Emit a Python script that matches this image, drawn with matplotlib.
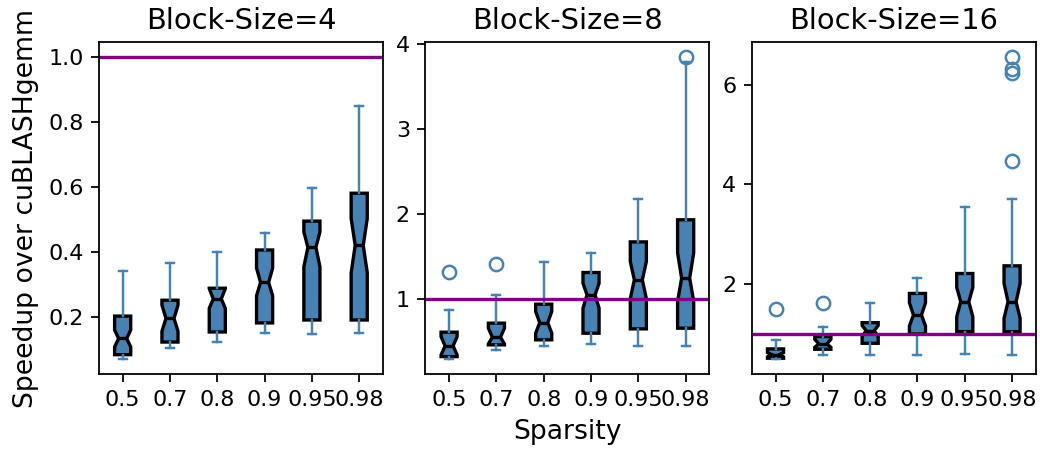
import matplotlib
matplotlib.use("Agg")
import matplotlib.pyplot as plt
from matplotlib.ticker import MultipleLocator

sparsity_labels = ["0.5", "0.7", "0.8", "0.9", "0.95", "0.98"]
block_sizes = [4, 8, 16]

# Block-Size = 4
bs4_med = [0.133, 0.195, 0.255, 0.306, 0.414, 0.420]
bs4_q1 = [0.083, 0.122, 0.153, 0.181, 0.190, 0.190]
bs4_q3 = [0.202, 0.251, 0.288, 0.406, 0.495, 0.581]
bs4_whislo = [0.069, 0.103, 0.121, 0.149, 0.147, 0.149]
bs4_whishi = [0.341, 0.365, 0.399, 0.457, 0.596, 0.851]
bs4_cilo = [0.107, 0.155, 0.226, 0.265, 0.354, 0.336]
bs4_cihi = [0.159, 0.236, 0.287, 0.350, 0.462, 0.503]
bs4_fliers = [[], [], [], [], [], []]

# Block-Size = 8
bs8_med = [0.447, 0.549, 0.721, 1.047, 1.224, 1.243]
bs8_q1 = [0.321, 0.459, 0.518, 0.596, 0.647, 0.655]
bs8_q3 = [0.608, 0.714, 0.937, 1.31, 1.67, 1.93]
bs8_whislo = [0.29, 0.40, 0.451, 0.471, 0.451, 0.447]
bs8_whishi = [0.871, 1.047, 1.43, 1.545, 2.173, 3.79]
bs8_cilo = [0.34, 0.47, 0.596, 0.89, 1.0, 0.97]
bs8_cihi = [0.556, 0.655, 0.851, 1.184, 1.44, 1.54]
bs8_fliers = [[1.318], [1.412], [], [], [], [3.84]]

# Block-Size = 16
bs16_med = [0.587, 0.80, 1.067, 1.38, 1.647, 1.647]
bs16_q1 = [0.513, 0.693, 0.813, 1.0, 1.047, 1.047]
bs16_q3 = [0.70, 0.947, 1.227, 1.813, 2.213, 2.367]
bs16_whislo = [0.493, 0.58, 0.573, 0.58, 0.593, 0.573]
bs16_whishi = [0.88, 1.133, 1.613, 2.133, 3.553, 3.707]
bs16_cilo = [0.54, 0.733, 0.95, 1.16, 1.347, 1.313]
bs16_cihi = [0.627, 0.893, 1.17, 1.627, 1.933, 2.013]
bs16_fliers = [[1.5], [1.613], [], [], [], [4.48, 6.24, 6.32, 6.55]]

panels = [
    (bs4_med, bs4_q1, bs4_q3, bs4_whislo, bs4_whishi, bs4_cilo, bs4_cihi, bs4_fliers),
    (bs8_med, bs8_q1, bs8_q3, bs8_whislo, bs8_whishi, bs8_cilo, bs8_cihi, bs8_fliers),
    (bs16_med, bs16_q1, bs16_q3, bs16_whislo, bs16_whishi, bs16_cilo, bs16_cihi, bs16_fliers),
]

fig, axes = plt.subplots(1, 3, figsize=(6.5, 2.83125), dpi=160)
fig.subplots_adjust(left=0.0952, right=0.9959, top=0.9066, bottom=0.1737, wspace=0.15)

color = "steelblue"
for ax, bs, (med, q1, q3, wlo, whi, clo, chi, fl) in zip(axes, block_sizes, panels):
    stats = []
    for i in range(len(med)):
        stats.append(dict(med=med[i], q1=q1[i], q3=q3[i], whislo=wlo[i], whishi=whi[i],
                          cilo=clo[i], cihi=chi[i], fliers=fl[i], label=sparsity_labels[i]))
    ax.bxp(stats, positions=range(1, len(med) + 1), widths=0.34, shownotches=True,
           patch_artist=True,
           boxprops=dict(facecolor=color, edgecolor="black", linewidth=1.5),
           medianprops=dict(color="black", linewidth=1.5),
           whiskerprops=dict(color=color, linewidth=1.1),
           capprops=dict(color=color, linewidth=1.1),
           flierprops=dict(marker="o", markerfacecolor="none", markeredgecolor=color,
                           markeredgewidth=1.1))
    ax.axhline(1.0, color="purple", linewidth=1.5)
    ax.set_title(f"Block-Size={bs}", fontsize=13)

axes[2].yaxis.set_major_locator(MultipleLocator(2))
axes[0].set_ylabel("Speedup over cuBLASHgemm", fontsize=12)
axes[1].set_xlabel("Sparsity", fontsize=12)

fig.savefig("out.png", dpi=160)
